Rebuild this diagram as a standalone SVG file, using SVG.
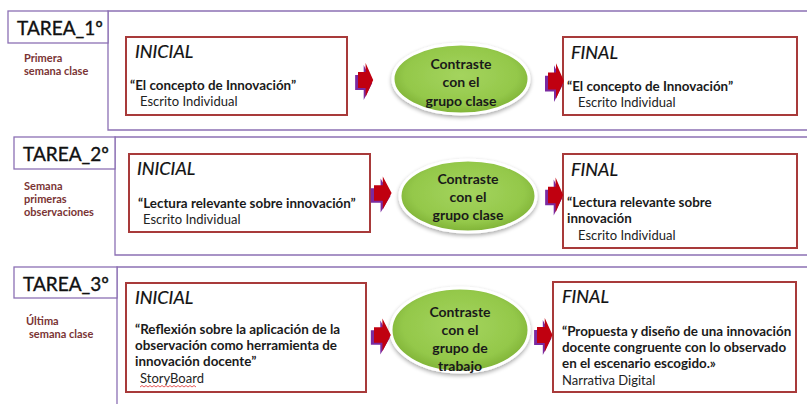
<svg xmlns="http://www.w3.org/2000/svg" width="807" height="404" viewBox="0 0 807 404">
<defs>
<style>
.frame{fill:none;stroke:#8c70b4;stroke-width:1.3}
.tbox{fill:#fff;stroke:#8c70b4;stroke-width:1.3}
.rbox{fill:#fff;stroke:#a83a3a;stroke-width:2}
.ttl{font-family:Lato,"Liberation Sans",sans-serif;font-size:19px;fill:#111;stroke:#111;stroke-width:0.35}
.side{font-family:Lato,"Liberation Sans",sans-serif;font-size:11px;font-weight:bold;fill:#7a3434}
.hd{font-family:Lato,"Liberation Sans",sans-serif;font-size:18px;font-style:italic;fill:#111;stroke:#111;stroke-width:0.2}
.q{font-family:Lato,"Liberation Sans",sans-serif;font-size:13.4px;font-weight:bold;fill:#1a1a1a}
.s{font-family:Lato,"Liberation Sans",sans-serif;font-size:13px;fill:#222}
.et{font-family:Lato,"Liberation Sans",sans-serif;font-size:14px;font-weight:bold;fill:#1a1a1a;text-anchor:middle}
.ell{fill:url(#gr);stroke:#fff;stroke-width:3;filter:url(#sh)}
.ar{fill:#c00010}
.ap{fill:#7a2aa0}
</style>
<radialGradient id="gr" cx="50%" cy="45%" r="55%">
<stop offset="0" stop-color="#a4d45e"/>
<stop offset="0.75" stop-color="#94c84a"/>
<stop offset="1" stop-color="#7fb236"/>
</radialGradient>
<filter id="sh" x="-20%" y="-20%" width="140%" height="150%">
<feGaussianBlur in="SourceAlpha" stdDeviation="2"/>
<feOffset dx="0" dy="2" result="b"/>
<feComponentTransfer><feFuncA type="linear" slope="0.35"/></feComponentTransfer>
<feMerge><feMergeNode/><feMergeNode in="SourceGraphic"/></feMerge>
</filter>
<g id="arrow">
<polygon class="ap" points="-3,-5 6,-5 6,-15 15,3 6,20 6,10 -3,10"/>
<polygon class="ar" points="0,-8 8,-8 8,-17 16,0 8,17 8,8 0,8"/>
</g>
</defs>
<rect width="807" height="404" fill="#fff"/>

<g id="frames">
<polyline class="frame" points="807,11 108,11 108,130 807,130"/>
<polyline class="frame" points="807,137 115,137 115,255 807,255"/>
<polyline class="frame" points="807,267 117,267 117,404"/>
</g>

<g id="tarea1">
<rect class="tbox" x="8" y="11" width="100" height="32"/>
<text class="ttl" x="17" y="35">TAREA_1º</text>
<text class="side" x="24" y="62">Primera</text>
<text class="side" x="24" y="75">semana clase</text>
</g>
<g id="tarea2">
<rect class="tbox" x="14" y="137" width="101" height="32"/>
<text class="ttl" x="23" y="161">TAREA_2º</text>
<text class="side" x="24" y="190">Semana</text>
<text class="side" x="24" y="203">primeras</text>
<text class="side" x="24" y="216">observaciones</text>
</g>
<g id="tarea3">
<rect class="tbox" x="14" y="267" width="103" height="31"/>
<text class="ttl" x="23" y="291">TAREA_3º</text>
<text class="side" x="26" y="325">Última</text>
<text class="side" x="29" y="338">semana clase</text>
</g>

<g id="inicial1">
<rect class="rbox" x="126" y="37" width="221" height="78"/>
<text class="hd" x="135" y="58">INICIAL</text>
<text class="q" x="130" y="90">“El concepto de Innovación”</text>
<text class="s" x="140" y="106">Escrito Individual</text>
</g>
<g id="contraste1">
<ellipse class="ell" cx="461" cy="79" rx="68" ry="35"/>
<text class="et" x="461" y="69">Contraste</text>
<text class="et" x="461" y="87">con el</text>
<text class="et" x="461" y="106">grupo clase</text>
</g>
<g id="final1">
<rect class="rbox" x="563" y="37" width="234" height="78"/>
<text class="hd" x="571" y="59">FINAL</text>
<text class="q" x="567" y="91">“El concepto de Innovación”</text>
<text class="s" x="578" y="107">Escrito Individual</text>
</g>

<g id="inicial2">
<rect class="rbox" x="129" y="154" width="241" height="78"/>
<text class="hd" x="137" y="175">INICIAL</text>
<text class="q" x="138" y="208">“Lectura relevante sobre innovación”</text>
<text class="s" x="143" y="224">Escrito Individual</text>
</g>
<g id="contraste2">
<ellipse class="ell" cx="468" cy="196" rx="68" ry="36"/>
<text class="et" x="468" y="184">Contraste</text>
<text class="et" x="468" y="202">con el</text>
<text class="et" x="468" y="220">grupo clase</text>
</g>
<g id="final2">
<rect class="rbox" x="563" y="154" width="234" height="94"/>
<text class="hd" x="571" y="176">FINAL</text>
<text class="q" x="567" y="207">“Lectura relevante sobre</text>
<text class="q" x="567" y="223">innovación</text>
<text class="s" x="578" y="240">Escrito Individual</text>
</g>

<g id="inicial3">
<rect class="rbox" x="126" y="283" width="240" height="109"/>
<text class="hd" x="135" y="304">INICIAL</text>
<text class="q" x="135" y="334">“Reflexión sobre la aplicación de la</text>
<text class="q" x="135" y="350">observación como herramienta de</text>
<text class="q" x="135" y="366">innovación docente”</text>
<text class="s" x="140" y="383">StoryBoard</text>
<path d="M140,387 l2,-1.5 2,1.5 2,-1.5 2,1.5 2,-1.5 2,1.5 2,-1.5 2,1.5 2,-1.5 2,1.5 2,-1.5 2,1.5 2,-1.5 2,1.5 2,-1.5 2,1.5 2,-1.5 2,1.5 2,-1.5 2,1.5 2,-1.5 2,1.5 2,-1.5 2,1.5 2,-1.5 2,1.5 2,-1.5 2,1.5" fill="none" stroke="#e03030" stroke-width="0.8"/>
</g>
<g id="contraste3">
<ellipse class="ell" cx="460" cy="330" rx="69" ry="42"/>
<text class="et" x="460" y="317">Contraste</text>
<text class="et" x="460" y="335">con el</text>
<text class="et" x="460" y="353">grupo de</text>
<text class="et" x="460" y="371">trabajo</text>
</g>
<g id="final3">
<rect class="rbox" x="553" y="282" width="243" height="110"/>
<text class="hd" x="562" y="303">FINAL</text>
<text class="q" x="562" y="336">“Propuesta y diseño de una innovación</text>
<text class="q" x="562" y="352">docente congruente con lo observado</text>
<text class="q" x="562" y="368">en el escenario escogido.»</text>
<text class="s" x="562" y="385">Narrativa Digital</text>
</g>

<g id="connectors">
<use href="#arrow" transform="translate(358,80) scale(0.95,1)"/>
<use href="#arrow" transform="translate(548,81) scale(1,1.05)"/>
<use href="#arrow" transform="translate(374,193) scale(1.1,0.97)"/>
<use href="#arrow" transform="translate(548,195) scale(0.95,1.03)"/>
<use href="#arrow" transform="translate(374,335) scale(1.05,0.97)"/>
<use href="#arrow" transform="translate(537,335) scale(0.97,1)"/>
</g>
</svg>
